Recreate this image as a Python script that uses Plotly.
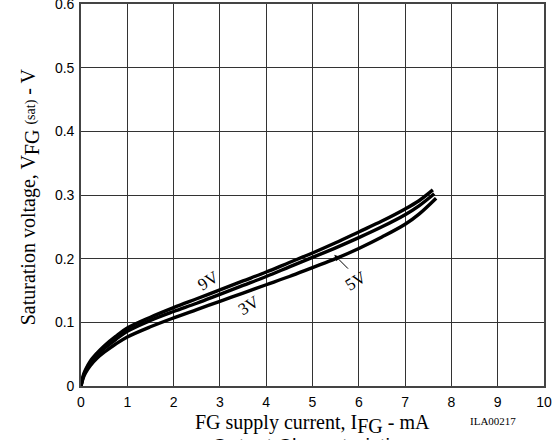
import plotly.graph_objects as go

# Data
x_9v = [0, 0.05, 0.1, 0.2, 0.35, 0.5, 0.75, 1.0, 1.5, 2.0, 2.5, 3.0, 3.5, 4.0, 4.5, 5.0, 5.5, 6.0, 6.5, 7.0, 7.3, 7.6]
y_9v = [0, 0.017, 0.026, 0.039, 0.052, 0.063, 0.078, 0.091, 0.108, 0.123, 0.137, 0.151, 0.165, 0.179, 0.194, 0.209, 0.225, 0.242, 0.259, 0.278, 0.291, 0.308]

x_5v = [0, 0.05, 0.1, 0.2, 0.35, 0.5, 0.75, 1.0, 1.5, 2.0, 2.5, 3.0, 3.5, 4.0, 4.5, 5.0, 5.5, 6.0, 6.5, 7.0, 7.3, 7.63]
y_5v = [0, 0.015, 0.024, 0.036, 0.049, 0.059, 0.073, 0.086, 0.103, 0.117, 0.130, 0.144, 0.158, 0.172, 0.187, 0.202, 0.217, 0.233, 0.250, 0.269, 0.283, 0.302]

x_3v = [0, 0.05, 0.1, 0.2, 0.35, 0.5, 0.75, 1.0, 1.5, 2.0, 2.5, 3.0, 3.5, 4.0, 4.5, 5.0, 5.5, 6.0, 6.5, 7.0, 7.3, 7.67]
y_3v = [0, 0.013, 0.021, 0.032, 0.044, 0.053, 0.066, 0.077, 0.093, 0.107, 0.120, 0.133, 0.146, 0.159, 0.172, 0.186, 0.200, 0.216, 0.234, 0.254, 0.270, 0.295]

x_ticks = [0, 1, 2, 3, 4, 5, 6, 7, 8, 9, 10]
y_ticks = [0, 0.1, 0.2, 0.3, 0.4, 0.5, 0.6]
y_tick_text = ["0", "0.1", "0.2", "0.3", "0.4", "0.5", "0.6"]

SERIF = "Liberation Serif, Times New Roman, serif"
SANS = "Liberation Sans, Arial, sans-serif"

fig = go.Figure()
for xs, ys in [(x_3v, y_3v), (x_5v, y_5v), (x_9v, y_9v)]:
    fig.add_trace(go.Scatter(x=xs, y=ys, mode="lines", line=dict(color="black", width=3.4, shape="spline"),
                             showlegend=False, hoverinfo="skip"))

fig.update_layout(
    width=559, height=440,
    margin=dict(l=81, r=15, t=4, b=54, autoexpand=False),
    paper_bgcolor="white", plot_bgcolor="white",
    font=dict(family=SANS, color="black"),
)
fig.update_xaxes(range=[0, 10], tickvals=x_ticks, showgrid=True, gridcolor="#333", gridwidth=1,
                 showline=True, linecolor="#444", linewidth=1.6, mirror=True, zeroline=False, automargin=False,
                 ticks="", tickfont=dict(size=14, family=SANS, color="black"), ticklabelstandoff=2,
                 ticklabeloverflow="allow")
fig.update_yaxes(range=[0, 0.6], tickvals=y_ticks, ticktext=y_tick_text, showgrid=True, gridcolor="#333", gridwidth=1,
                 showline=True, linecolor="#444", linewidth=1.6, mirror=True, zeroline=False, automargin=False,
                 ticks="", tickfont=dict(size=14, family=SANS, color="black"), ticklabelstandoff=2,
                 ticklabeloverflow="allow")

# axis titles
fig.add_annotation(xref="paper", yref="paper", x=0.5, y=-0.061, yanchor="top", showarrow=False,
                   text="FG supply current, I<sub><span style='font-size:20px'>FG</span></sub> - mA",
                   font=dict(family=SERIF, size=20, color="black"))
fig.add_annotation(xref="paper", yref="paper", x=-0.143, y=0.496, textangle=-90, showarrow=False,
                   text="Saturation voltage, V<sub><span style='font-size:20px'>FG</span></sub> <span style='font-size:14px'>(sat)</span> - V",
                   font=dict(family=SERIF, size=20, color="black"))
fig.add_annotation(xref="paper", yref="paper", x=0.944, y=-0.113, showarrow=False,
                   text="ILA00217", font=dict(family=SERIF, size=11, color="black"))
fig.add_annotation(xref="paper", yref="paper", x=0.278, y=-0.124, xanchor="left", yanchor="top", showarrow=False,
                   text="Output Characteristics", font=dict(family=SANS, size=20, color="black"))

# curve labels
fig.add_annotation(x=2.76, y=0.165, text="9V", showarrow=False, textangle=-32,
                   font=dict(family=SERIF, size=17, color="black"))
fig.add_annotation(x=3.62, y=0.127, text="3V", showarrow=False, textangle=-32,
                   font=dict(family=SERIF, size=17, color="black"))
fig.add_annotation(x=5.95, y=0.166, text="5V", showarrow=False, textangle=-32,
                   font=dict(family=SERIF, size=17, color="black"))
fig.add_annotation(x=5.47, y=0.206, ax=5.8, ay=0.182, axref="x", ayref="y", text="", showarrow=True,
                   arrowhead=2, arrowsize=1.2, arrowwidth=1, arrowcolor="black")

fig.write_html("out.html")
